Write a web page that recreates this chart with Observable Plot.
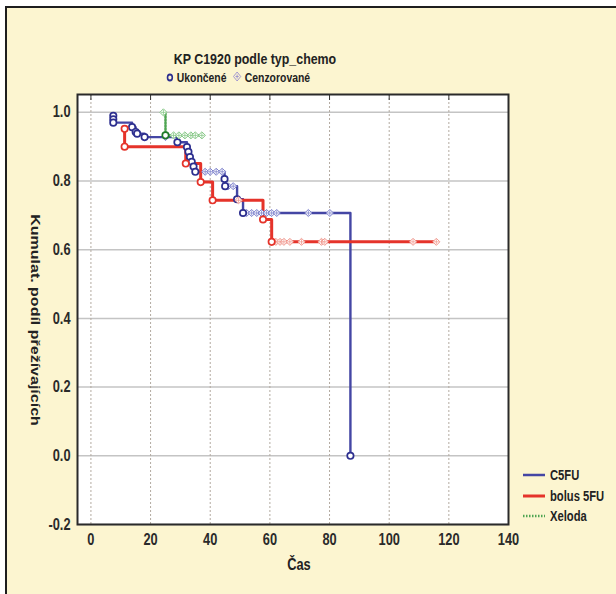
<!DOCTYPE html>
<html><head><meta charset="utf-8">
<script src="https://cdn.jsdelivr.net/npm/d3@7"></script>
<script src="https://cdn.jsdelivr.net/npm/@observablehq/plot@0.6"></script>
<style>
html,body{margin:0;padding:0;background:#fff;}
#wrap{position:relative;width:616px;height:594px;overflow:hidden;background:#fff;font-family:"Liberation Sans",Arial,sans-serif;}
#bg{position:absolute;left:5px;top:6px;width:640px;height:640px;background:#fcf5d0;border-left:2px solid #1e1e1e;border-top:2px solid #1e1e1e;}
#chart{position:absolute;left:0;top:0;}
.lab{position:absolute;white-space:nowrap;font-weight:bold;color:#222;line-height:1;transform-origin:50% 50%;}
</style></head><body>
<div id="wrap">
  <div id="bg"></div>
  <div id="chart"></div>
  <div class="lab" id="title" style="left:255px;top:59px;font-size:15.5px;transform:translate(-50%,-50%) scaleX(0.8);">KP C1920 podle typ_chemo</div>
  <div class="lab" id="toplegend" style="left:238px;top:77px;font-size:13px;transform:translate(-50%,-50%) scaleX(0.8);">
    <svg width="10" height="10" style="vertical-align:-1px"><circle cx="5" cy="5" r="3" fill="none" stroke="#2d2f8f" stroke-width="2"/></svg> Ukončené&nbsp;&nbsp;<svg width="12" height="12" style="vertical-align:-1px"><path d="M6,1.5L10.5,6L6,10.5L1.5,6Z" fill="none" stroke="#9a8fd0" stroke-width="1"/><path d="M6,4V8M4,6H8" stroke="#9a8fd0" stroke-width="1"/></svg> Cenzorované</div>
  <div class="lab" id="ylab" style="left:35px;top:320px;font-size:16px;transform:translate(-50%,-50%) scaleX(0.8) rotate(90deg);">Kumulat. podíl přežívajících</div>
  <div class="lab" id="xlab" style="left:299px;top:565px;font-size:16px;transform:translate(-50%,-50%) scaleX(0.8);">Čas</div>
  <div id="rlegend" style="position:absolute;left:522px;top:465px;width:100px;white-space:nowrap;"></div>
</div>
<script>
// ---- data ----
const seriesNames = ["C5FU", "bolus 5FU", "Xeloda"];
const seriesColors = ["#4446a4", "#e5332a", "#4fa552"];

// C5FU: events (Ukončené)
const c5fuEventTime = [7.5, 7.5, 7.5, 13.8, 15, 15.5, 18, 29, 32.2, 32.7, 33.2, 33.8, 34.4, 35, 44.8, 45, 49, 51, 87];
const c5fuEventSurv = [0.99, 0.98, 0.97, 0.957, 0.943, 0.938, 0.928, 0.913, 0.899, 0.885, 0.870, 0.856, 0.842, 0.827, 0.806, 0.785, 0.747, 0.707, 0];
// C5FU: censored (Cenzorované)
const c5fuCensTime = [25, 38.3, 40, 42, 44, 46, 47.7, 52.2, 53.9, 55.6, 57.2, 58.9, 60.6, 62.3, 72.9, 80.1];
const c5fuCensSurv = [0.928, 0.827, 0.827, 0.827, 0.827, 0.785, 0.785, 0.707, 0.707, 0.707, 0.707, 0.707, 0.707, 0.707, 0.707, 0.707];

// bolus 5FU
const bolusEventTime = [11.3, 11.3, 31.8, 36.8, 40.8, 57.7, 60.6];
const bolusEventSurv = [0.952, 0.9, 0.851, 0.797, 0.744, 0.688, 0.623];
const bolusCensTime = [49.5, 62.0, 63.4, 64.7, 66.7, 70.6, 77.3, 78.4, 108, 115.8];
const bolusCensSurv = [0.744, 0.623, 0.623, 0.623, 0.623, 0.623, 0.623, 0.623, 0.623, 0.623];

// Xeloda
const xelodaEventTime = [25];
const xelodaEventSurv = [0.933];
const xelodaCensTime = [24.3, 27.7, 29.5, 31.5, 33.5, 35, 37.2];
const xelodaCensSurv = [1.0, 0.933, 0.933, 0.933, 0.933, 0.933, 0.933];

const xTicks = [0, 20, 40, 60, 80, 100, 120, 140];
const yTicks = [-0.2, 0.0, 0.2, 0.4, 0.6, 0.8, 1.0];

// ---- build tables ----
function pts(ts, ss, kind) { return ts.map((t, i) => ({t, s: ss[i], kind})); }
function lineData(ev, ce) {
  return [...ev, ...ce].sort((a, b) => a.t - b.t || b.s - a.s);
}
const groups = [
  {ev: pts(c5fuEventTime, c5fuEventSurv, "e"), ce: pts(c5fuCensTime, c5fuCensSurv, "c")},
  {ev: pts(bolusEventTime, bolusEventSurv, "e"), ce: pts(bolusCensTime, bolusCensSurv, "c")},
  {ev: pts(xelodaEventTime, xelodaEventSurv, "e"), ce: pts(xelodaCensTime, xelodaCensSurv, "c")}
];
const lineStyles = [
  {strokeWidth: 2.4},
  {strokeWidth: 3},
  {strokeWidth: 2.5, strokeDasharray: "1.5,1.5"}
];
const censColors = ["#7e82cc", "#f19a90", "#86c886"];
const eventColors = ["#2d2f8f", "#e5332a", "#1f7a2a"];

const marks = [
  Plot.frame({fill: "white"}),
  Plot.gridY(yTicks, {stroke: "#c4c4c4", strokeOpacity: 1, strokeWidth: 1.5}),
  Plot.gridX(xTicks, {stroke: "#b3aaa0", strokeOpacity: 1, strokeWidth: 1, strokeDasharray: "2,2"}),
  Plot.axisX(xTicks, {tickSize: 0, tickPadding: 9, label: null, tickFormat: d => String(d)}),
  Plot.axisX(xTicks, {anchor: "top", tickSize: -5, label: null, tickFormat: () => "", stroke: "#333"}),
  Plot.axisY(yTicks, {tickSize: 0, tickPadding: 7, label: null, tickFormat: d => d.toFixed(1)})
];
groups.forEach((g, i) => {
  marks.push(Plot.line(lineData(g.ev, g.ce), {x: "t", y: "s", curve: "step-after", stroke: seriesColors[i], ...lineStyles[i]}));
});
groups.forEach((g, i) => {
  marks.push(Plot.dot(g.ce, {x: "t", y: "s", symbol: "diamond2", r: 3.2, stroke: censColors[i], strokeWidth: 1, fill: "white"}));
  marks.push(Plot.dot(g.ce, {x: "t", y: "s", symbol: "plus", r: 1.8, stroke: censColors[i], strokeWidth: 0.8}));
  marks.push(Plot.dot(g.ev, {x: "t", y: "s", symbol: "circle", r: 3.2, stroke: eventColors[i], strokeWidth: 1.7, fill: "white"}));
});
marks.push(Plot.frame({stroke: "#2a2a2a", strokeWidth: 2}));

const chart = Plot.plot({
  width: 616, height: 594,
  marginLeft: 77, marginRight: 108, marginTop: 94, marginBottom: 70,
  style: {background: "transparent", fontFamily: "'Liberation Sans', Arial, sans-serif", fontSize: "16px", fontWeight: "bold", color: "#2a2a2a", overflow: "visible"},
  x: {domain: [-4.5, 140]},
  y: {domain: [-0.2, 1.052]},
  marks
});
document.getElementById("chart").appendChild(chart);

// horizontally condensed tick labels, as in the reference
chart.querySelectorAll('g[aria-label$="tick label"] text').forEach(t => {
  const tr = t.getAttribute("transform") || "";
  const x = t.getAttribute("x");
  let pre = tr;
  if (x !== null && !isNaN(+x)) { pre = `translate(${+x},0) ` + tr; t.removeAttribute("x"); }
  t.setAttribute("transform", (pre + " scale(0.8,1)").trim());
});

// right legend
const rl = document.getElementById("rlegend");
seriesNames.forEach((name, i) => {
  const row = document.createElement("div");
  row.style.cssText = "height:20.5px;display:flex;align-items:center;white-space:nowrap;";
  const dash = i === 2 ? 'stroke-dasharray="1.5,1.5"' : "";
  row.innerHTML = `<svg width="24" height="8" style="flex:none"><line x1="1" y1="4" x2="23" y2="4" stroke="${seriesColors[i]}" stroke-width="${i===1?3:2.5}" ${dash}/></svg>` +
    `<span style="font-weight:bold;font-size:14px;color:#222;margin-left:4px;display:inline-block;white-space:nowrap;flex:none;transform:scaleX(0.8);transform-origin:0 50%;">${name}</span>`;
  rl.appendChild(row);
});
</script>
</body></html>
